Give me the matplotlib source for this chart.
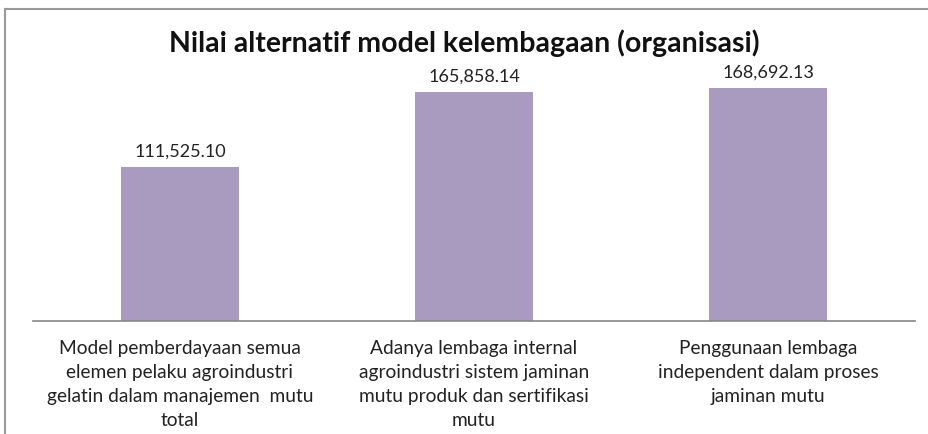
import matplotlib
matplotlib.use("Agg")
import matplotlib.pyplot as plt
from matplotlib.lines import Line2D
import numpy as np

categories = [
    "Model pemberdayaan semua\nelemen pelaku agroindustri\ngelatin dalam manajemen  mutu\ntotal",
    "Adanya lembaga internal\nagroindustri sistem jaminan\nmutu produk dan sertifikasi\nmutu",
    "Penggunaan lembaga\nindependent dalam proses\njaminan mutu",
]
values = [111525.10, 165858.14, 168692.13]
value_labels = ["111,525.10", "165,858.14", "168,692.13"]
title = "Nilai alternatif model kelembagaan (organisasi)"

plt.rcParams["font.family"] = ["Lato", "DejaVu Sans"]

fig = plt.figure(figsize=(9.29, 4.35), dpi=100)
ax = fig.add_axes([33 / 929, 1 - 322 / 435, (915 - 33) / 929, (322 - 73) / 435])

x = np.arange(len(categories))
ax.bar(x, values, width=0.4, color="#A99BC0")
ax.set_xlim(-0.5, len(categories) - 0.5)
ax.set_ylim(0, 180000)

for xi, v, lab in zip(x, values, value_labels):
    ax.annotate(lab, (xi, v), xytext=(0, 6), textcoords="offset points",
                ha="center", va="bottom", fontsize=13, color="#222222")

ax.set_xticks(x)
ax.set_xticklabels(categories, fontsize=13.8, linespacing=1.5, color="#222222")
ax.tick_params(axis="x", length=0, pad=13)
ax.set_yticks([])
for side in ["top", "right", "left"]:
    ax.spines[side].set_visible(False)
ax.spines["bottom"].set_color("#888888")
ax.spines["bottom"].set_linewidth(1.2)

fig.text(0.5, 1 - 43 / 435, title, ha="center", va="center",
         fontsize=20.5, fontweight="bold", color="#111111")

# chart frame (cropped on right/bottom)
fig.add_artist(Line2D([5 / 929, 1], [1 - 10 / 435, 1 - 10 / 435],
                      transform=fig.transFigure, color="#9a9a9a", lw=1.5))
fig.add_artist(Line2D([5 / 929, 5 / 929], [0, 1 - 10 / 435],
                      transform=fig.transFigure, color="#9a9a9a", lw=1.5))

fig.savefig("out.png", dpi=100)
